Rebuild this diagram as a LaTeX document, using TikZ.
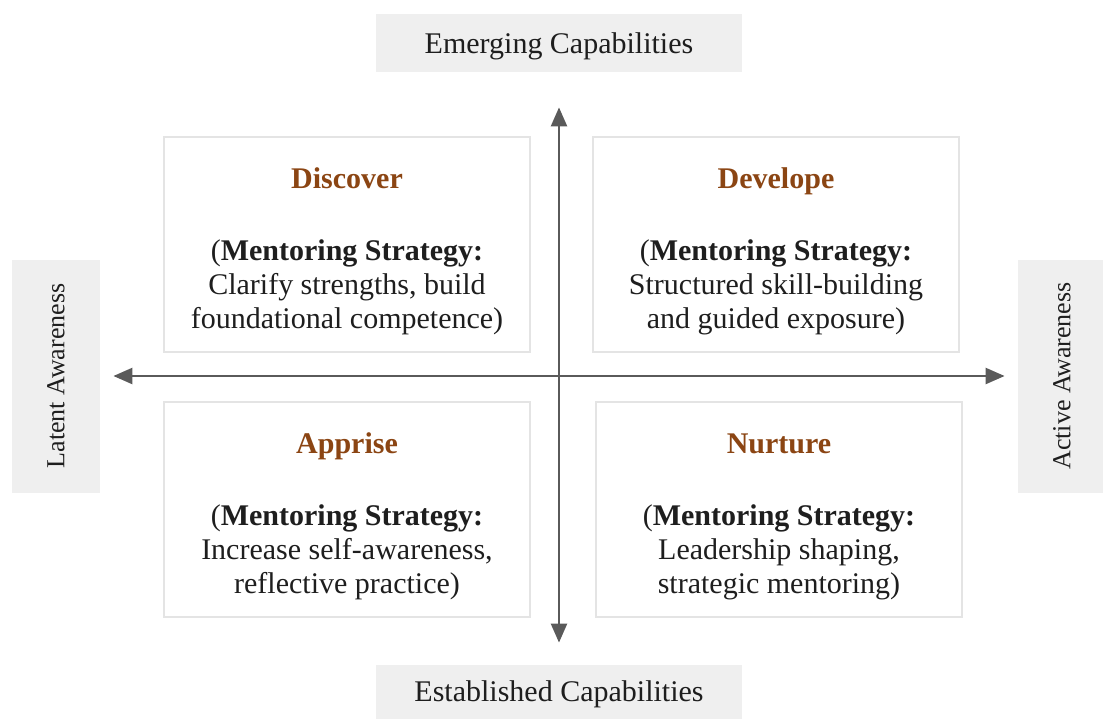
\documentclass[tikz,border=0pt]{standalone}
\usepackage{fontspec}
\setmainfont{Liberation Serif}
\usepackage{xcolor}
\usetikzlibrary{arrows.meta, positioning}
\definecolor{heading}{RGB}{139,69,19}
\definecolor{axisgray}{RGB}{90,90,90}
\definecolor{labelfill}{RGB}{239,239,239}
\definecolor{frame}{RGB}{228,228,228}
\definecolor{ink}{RGB}{30,30,30}
\tikzset{
    quadrant/.style={rectangle, draw=frame, line width=1pt, minimum width=183pt, minimum height=107.5pt, text centered, align=center, inner sep=0pt, text=ink, font=\fontsize{15}{17}\selectfont},
    axislabel/.style={rectangle, fill=labelfill, minimum width=183pt, minimum height=29pt, text centered, text=ink, font=\fontsize{15}{17}\selectfont},
    sidelabel/.style={rectangle, fill=labelfill, minimum width=116.5pt, minimum height=44pt, rotate=90, text centered, text=ink, font=\fontsize{13}{15}\selectfont},
    axis/.style={{Triangle[length=9.5pt,width=8pt]}-{Triangle[length=9.5pt,width=8pt]}, line width=1.2pt, axisgray}
}
% strut keeps the heading a little lower in its box
\newcommand{\quadtitle}[1]{\rule{0pt}{17pt}\textcolor{heading}{\textbf{#1}}}

\begin{document}
\begin{tikzpicture}[x=0.5pt, y=-0.5pt]
    \useasboundingbox (0,0) rectangle (1103,718);
    \coordinate (o) at (560,376);

    % Quadrants
    \node[quadrant, above left=11.5pt and 14.5pt of o] (discover) {\quadtitle{Discover}\\[19pt](\textbf{Mentoring Strategy:}\\Clarify strengths, build\\foundational competence)};
    \node[quadrant, above right=11.5pt and 16pt of o] (develope) {\quadtitle{Develope}\\[19pt](\textbf{Mentoring Strategy:}\\Structured skill-building\\and guided exposure)};
    \node[quadrant, below left=12.5pt and 14.5pt of o] (apprise) {\quadtitle{Apprise}\\[19pt](\textbf{Mentoring Strategy:}\\Increase self-awareness,\\reflective practice)};
    \node[quadrant, below right=12.5pt and 17.5pt of o] (nurture) {\quadtitle{Nurture}\\[19pt](\textbf{Mentoring Strategy:}\\Leadership shaping,\\strategic mentoring)};

    % Axis labels
    \node[axislabel, text height=14pt, text depth=3.3pt] (emerging) at (559,43) {Emerging Capabilities};
    \node[axislabel] (established) at (559,694) {Established Capabilities};
    \node[sidelabel] (latent) at (56,376) {Latent Awareness};
    \node[sidelabel] (active) at (1062,376) {Active Awareness};

    % Axes
    \draw[axis, shorten <=11pt, shorten >=17.5pt] (established) -- (emerging);
    \draw[axis, shorten <=6.5pt, shorten >=6.5pt] (latent) -- (active);
\end{tikzpicture}
\end{document}
